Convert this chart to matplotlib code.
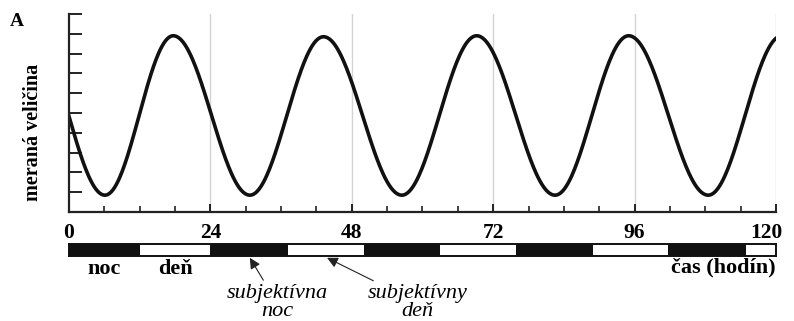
import numpy as np
import matplotlib
matplotlib.use("Agg")
import matplotlib.pyplot as plt
from matplotlib.transforms import ScaledTranslation

plt.rcParams['font.family'] = ['Liberation Serif', 'DejaVu Serif']

# extrema of the measured curve (hours, value), read off the picture
# first and last points lie just outside the 0-120 h window
extreme_hours = [-6.2, 6.1, 17.7, 30.7, 43.2, 56.5, 69.2, 82.5, 95.0, 108.5, 121.0]
extreme_values = [8.9, 0.85, 8.9, 0.85, 8.85, 0.85, 8.9, 0.85, 8.9, 0.85, 8.9]

# light/dark bar under the axis: boundaries in hours, starts dark
bar_edges = [0, 12, 24, 37.2, 50.1, 63, 75.9, 88.9, 101.7, 114.9, 120]

x_ticks = [0, 24, 48, 72, 96, 120]
grid_hours = [24, 48, 72, 96, 120]


# smooth half-waves between consecutive extrema
def half_waves(hours, values, n=80):
    xs, ys = [], []
    for i in range(len(hours) - 1):
        s = np.linspace(0, 1, n)
        xs.append(hours[i] + (hours[i + 1] - hours[i]) * s)
        ys.append(values[i] + (values[i + 1] - values[i]) * (1 - np.cos(np.pi * s)) / 2)
    return np.concatenate(xs), np.concatenate(ys)


fig = plt.figure(figsize=(7.94, 3.21), dpi=100)
ax = fig.add_axes([0.0869, 0.3396, 0.8904, 0.6168])

for g in grid_hours:
    ax.axvline(g, color='#d4d4d4', lw=1.0, zorder=0)

t, v = half_waves(extreme_hours, extreme_values)
ax.plot(t, v, color='#111111', lw=2.6, solid_capstyle='round')

ax.set_xlim(0, 120)
ax.set_ylim(0, 10)
for side in ['top', 'right']:
    ax.spines[side].set_visible(False)
for side in ['left', 'bottom']:
    ax.spines[side].set_linewidth(1.6)
    ax.spines[side].set_color('#222222')

ax.set_yticks(range(0, 11))
ax.set_yticklabels([])
ax.tick_params(axis='y', direction='in', length=9, width=1.4, color='#222222')
ax.set_xticks(x_ticks)
ax.set_xticks(range(0, 121, 6), minor=True)
ax.tick_params(axis='x', which='major', direction='in', length=6, width=1.4,
               pad=8, labelsize=15.5, color='#222222')
ax.tick_params(axis='x', which='minor', direction='in', length=4, width=1.2, color='#222222')
for lab in ax.get_xticklabels():
    lab.set_fontweight('bold')
last = ax.get_xticklabels()[-1]
last.set_transform(last.get_transform() + ScaledTranslation(-10 / 100, 0, fig.dpi_scale_trans))

fig.text(33 / 794, 1 - 132 / 321, 'meraná veličina', rotation=90, ha='center',
         va='center', fontsize=14.5, fontweight='bold')
fig.text(17 / 794, 1 - 22 / 321, 'A', ha='center', va='center',
         fontsize=14, fontweight='bold')

# light/dark bar
axb = fig.add_axes([0.0869, 0.2025, 0.8904, 0.0374])
widths = np.diff(bar_edges)
colors = ['#111111' if i % 2 == 0 else 'white' for i in range(len(widths))]
axb.barh(0.5, widths, left=bar_edges[:-1], height=1.0, color=colors,
         edgecolor='none')
axb.set_xlim(0, 120)
axb.set_ylim(0, 1)
axb.set_xticks([])
axb.set_yticks([])
for sp in axb.spines.values():
    sp.set_linewidth(1.4)
    sp.set_color('#111111')

tr = axb.get_xaxis_transform()
axb.text(6, -1.1, 'noc', transform=tr, ha='center', va='center',
         fontsize=16, fontweight='bold')
axb.text(18, -1.1, 'deň', transform=tr, ha='center', va='center',
         fontsize=16, fontweight='bold')
axb.text(120, -0.95, 'čas (hodín)', transform=tr, ha='right', va='center',
         fontsize=16, fontweight='bold')

arrow = dict(arrowstyle='-|>', color='#222222', lw=0.8, mutation_scale=16,
             shrinkA=1, shrinkB=0)
axb.annotate('subjektívna\nnoc', xy=(30.7, -0.15), xycoords=tr,
             xytext=(35.3, -3.9), textcoords=tr, ha='center', va='center',
             fontsize=16, fontstyle='italic', linespacing=0.95,
             arrowprops=arrow, annotation_clip=False)
axb.annotate('subjektívny\ndeň', xy=(43.8, -0.15), xycoords=tr,
             xytext=(59.2, -3.9), textcoords=tr, ha='center', va='center',
             fontsize=16, fontstyle='italic', linespacing=0.95,
             arrowprops=arrow, annotation_clip=False)

fig.savefig('out.png', dpi=100)
